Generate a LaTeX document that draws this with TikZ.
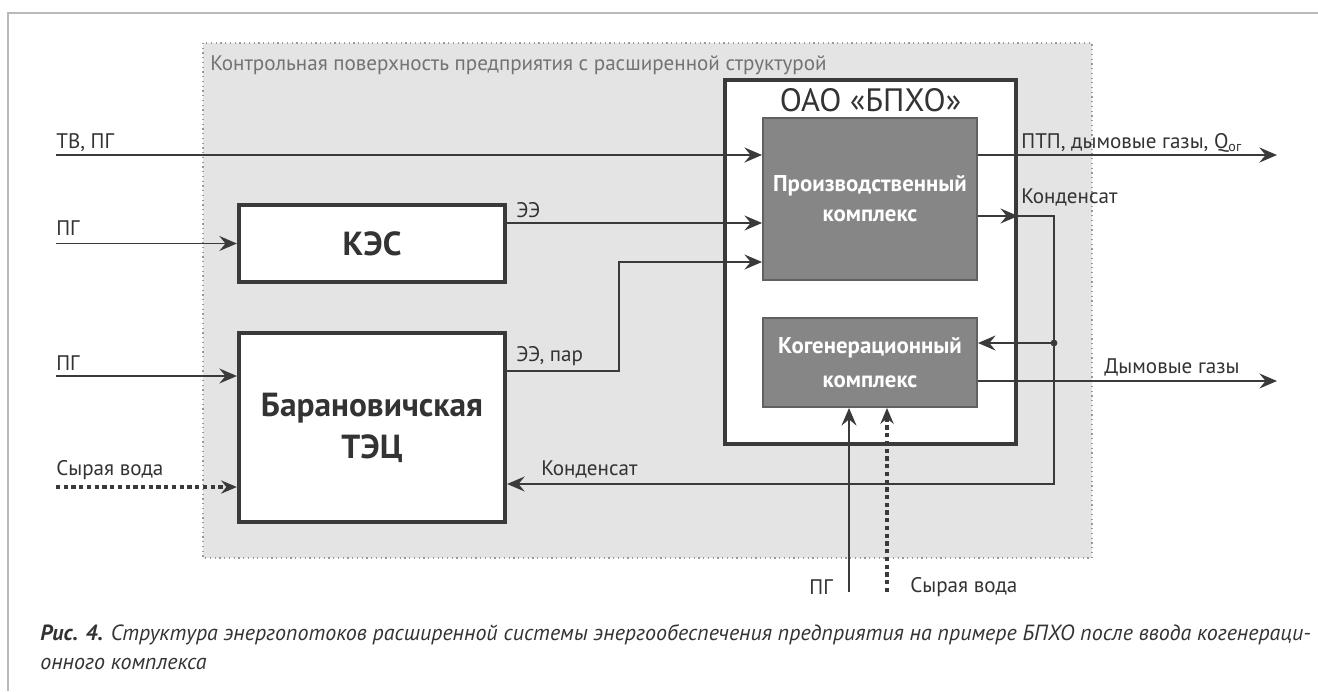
\documentclass[tikz,border=0pt]{standalone}
\usepackage{fontspec}
\setmainfont{PT Sans}
\usetikzlibrary{arrows.meta}
\definecolor{txtgray}{HTML}{333333}
\definecolor{linegray}{HTML}{3a3a3a}
\definecolor{boxgray}{HTML}{868686}
\definecolor{surfgray}{HTML}{E4E4E4}
\begin{document}
\begin{tikzpicture}[x=0.02cm,y=-0.02cm,
    lbl/.style={font=\fontsize{12}{14}\selectfont, text=txtgray, inner sep=0pt},
    plant/.style={draw=linegray, line width=2.4pt, fill=white, minimum width=5.32cm, font=\fontsize{19}{24}\selectfont\bfseries, text=txtgray, align=center},
    unit/.style={draw=linegray!80, line width=1.1pt, fill=boxgray, minimum width=4.28cm, font=\fontsize{13}{17}\selectfont\bfseries, text=white, align=center},
    flow/.style={draw=linegray, line width=1.1pt, -{Stealth[length=10pt,width=8.5pt,inset=3.5pt]}},
    water/.style={flow, line width=2.2pt, dash pattern=on 2.4pt off 2pt, -{Stealth[length=9pt,width=7.5pt,inset=3pt]}},
    wire/.style={draw=linegray, line width=1.1pt}]
  \useasboundingbox (0,0) rectangle (1318,691);
  \draw[gray!55, line width=0.7pt] (8,691) -- (8,13) -- (1318,13);
  \filldraw[fill=surfgray, draw=gray!80, dotted, line width=0.7pt] (203,43) rectangle (1092,558);
  \node[lbl, text=gray!90!black, anchor=west] (surflbl) at (210,65) {Контрольная поверхность предприятия с расширенной структурой};

  \node[plant, minimum height=1.54cm] (kes) at (372,243.5) {КЭС};
  \node[plant, minimum height=3.78cm] (tec) at (372,427.5) {Барановичская\\ТЭЦ};
  \node[plant, minimum width=5.82cm, minimum height=7.28cm] (bpho) at (870.5,262) {};
  \node[font=\fontsize{18.4}{22}\selectfont, text=txtgray] (bpholbl) at (870.5,100) {ОАО «БПХО»};
  \node[unit, minimum height=3.24cm] (prod) at (870,199) {Производственный\\комплекс};
  \node[unit, minimum height=1.78cm, font=\fontsize{13}{19}\selectfont\bfseries] (kogen) at (870,362.5) {Когенерационный\\комплекс};

  \coordinate (tvIn) at (56,155);
  \coordinate (ptpOut) at (1277,155);
  \coordinate (pgKes) at (56,243.5);
  \coordinate (eeRow) at (0,223);
  \coordinate (pgTec) at (56,376);
  \coordinate (parRow) at (0,371);
  \coordinate (parBend) at (619,262);
  \coordinate (waterTec) at (56,487);
  \coordinate (kondRow) at (0,216);
  \coordinate (kondBend) at (1054,484);
  \coordinate (joinRow) at (0,343);
  \coordinate (gasRow) at (0,381);
  \coordinate (gasEnd) at (1277,381);
  \coordinate (pgKog) at (849,592);
  \coordinate (waterKog) at (887,592);
  \coordinate (kondJoin) at (kondBend |- joinRow);

  \draw[flow, line width=1.6pt] (tvIn) -- (tvIn -| prod.west);
  \draw[flow, line width=1.6pt] (prod.east |- ptpOut) -- (ptpOut);
  \draw[flow] (pgKes) -- (kes.west);
  \draw[flow] (kes.east |- eeRow) -- (prod.west |- eeRow);
  \draw[flow] (pgTec) -- (pgTec -| tec.west);
  \draw[flow] (tec.east |- parRow) -| (parBend) -- (parBend -| prod.west);
  \draw[water] (waterTec) -- (waterTec -| tec.west);
  \draw[flow] (prod.east |- kondRow) -- (bpho.east |- kondRow);
  \draw[flow] (prod.east |- kondRow) -| (kondBend) -- (kondBend -| tec.east);
  \filldraw[linegray] (kondJoin) circle (3);
  \draw[flow] (kondJoin) -- (kondJoin -| kogen.east);
  \draw[flow] (kogen.east |- gasRow) -- (gasEnd);
  \draw[flow] (pgKog) -- (pgKog |- kogen.south);
  \draw[water] (waterKog) -- (waterKog |- kogen.south);

  \node[lbl, anchor=west] (tvlbl) at (56,143) {ТВ, ПГ};
  \node[lbl, anchor=west] (pgkeslbl) at (56,228) {ПГ};
  \node[lbl, anchor=west] (pgteclbl) at (56,363) {ПГ};
  \node[lbl, anchor=west] (watertlbl) at (56,470) {Сырая вода};
  \node[lbl, anchor=west] (eelbl) at (516,210) {ЭЭ};
  \node[lbl, anchor=west] (parlbl) at (516,356) {ЭЭ, пар};
  \node[lbl, anchor=west] (ptplbl) at (1021,143) {ПТП, дымовые газы, Q\textsubscript{ог}};
  \node[lbl, anchor=west] (kondlbl) at (1021,197) {Конденсат};
  \node[lbl, anchor=west] (kondtlbl) at (541,469) {Конденсат};
  \node[lbl, anchor=west] (gaslbl) at (1104,367) {Дымовые газы};
  \node[lbl, anchor=east] (pgkoglbl) at (833,587) {ПГ};
  \node[lbl, anchor=west] (waterklbl) at (910,587) {Сырая вода};

  \node[font=\fontsize{12.5}{16.4}\selectfont\itshape, text=txtgray, anchor=west, align=left, inner sep=0pt] (caption) at (40,647)
    {\textbf{Рис. 4.} Структура энергопотоков расширенной системы энергообеспечения предприятия на примере БПХО после ввода когенераци-\\онного комплекса};
\end{tikzpicture}
\end{document}
